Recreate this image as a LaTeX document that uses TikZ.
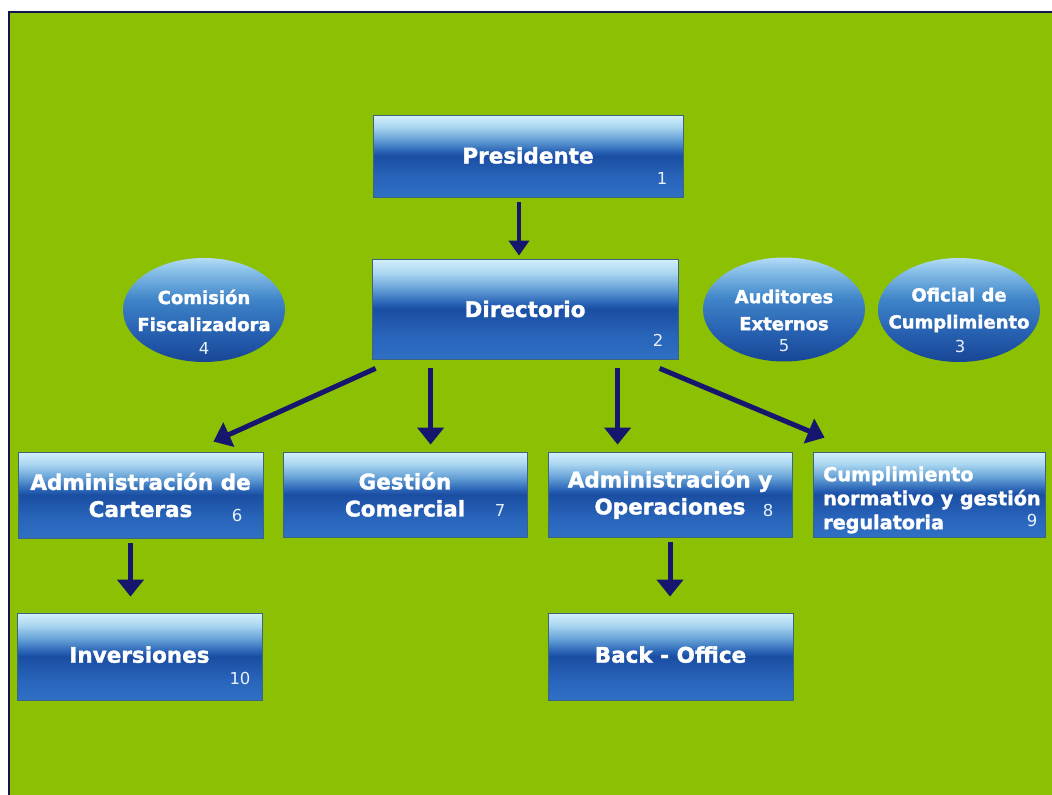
\documentclass[tikz,border=0pt]{standalone}
\usepackage{fontspec}
\setmainfont{DejaVu Sans}[BoldFeatures={FakeBold=1.6}]
\usetikzlibrary{arrows.meta,calc,shapes.geometric}
\definecolor{bgGreen}{RGB}{140,192,2}
\definecolor{frameNavy}{RGB}{20,20,80}
\definecolor{arrowNavy}{RGB}{22,22,110}
\definecolor{boxEdge}{RGB}{60,100,125}
\definecolor{bxA}{RGB}{47,112,196}
\definecolor{bxB}{RGB}{40,100,186}
\definecolor{bxC}{RGB}{26,78,162}
\definecolor{bxD}{RGB}{42,100,182}
\definecolor{bxE}{RGB}{100,160,214}
\definecolor{bxF}{RGB}{170,214,240}
\definecolor{bxG}{RGB}{212,239,250}
\definecolor{elA}{RGB}{24,70,150}
\definecolor{elB}{RGB}{40,98,178}
\definecolor{elC}{RGB}{62,132,200}
\definecolor{elD}{RGB}{142,196,234}
\definecolor{elE}{RGB}{180,220,244}
\definecolor{numCol}{RGB}{232,240,250}
\pgfdeclareverticalshading{boxshade}{100bp}{color(0bp)=(bxA); color(25bp)=(bxA); color(37bp)=(bxB); color(50bp)=(bxC); color(53bp)=(bxD); color(60bp)=(bxE); color(68bp)=(bxF); color(75bp)=(bxG); color(100bp)=(bxG)}
\pgfdeclareverticalshading{ellshade}{100bp}{color(0bp)=(elA); color(25bp)=(elA); color(40bp)=(elB); color(55bp)=(elC); color(70bp)=(elD); color(75bp)=(elE); color(100bp)=(elE)}
\tikzset{
  orgbox/.style={rectangle, shading=boxshade, draw=boxEdge, line width=0.8pt,
    inner sep=0pt, text=white, align=center,
    font=\fontsize{21.5}{27}\selectfont\bfseries},
  orgell/.style={ellipse, shading=ellshade, draw=none, inner sep=0pt,
    minimum width=162pt, minimum height=104pt},
  elltext/.style={text=white, align=center, inner sep=0pt,
    font=\fontsize{18}{27}\selectfont\bfseries},
  numtext/.style={text=numCol, inner sep=0pt, font=\fontsize{16.5}{16}\selectfont},
  arr/.style={draw=arrowNavy, line width=5pt,
    -{Triangle[width=26pt,length=17pt]}},
  arrthin/.style={draw=arrowNavy, line width=4pt,
    -{Triangle[width=20pt,length=15pt]}}
}
\begin{document}
\begin{tikzpicture}[x=1pt,y=-1pt]
\useasboundingbox (0,0) rectangle (1052,795);
\fill[white] (0,0) rectangle (1052,795);
\fill[bgGreen] (8,11) rectangle (1052,795);
\draw[frameNavy, line width=2pt] (9,795) -- (9,12) -- (1052,12);

% boxes
\node[orgbox, minimum width=310pt, minimum height=82pt] (pres) at (528,156) {\raisebox{1.5pt}{Presidente}};
\node[orgbox, minimum width=306pt, minimum height=100pt] (dir) at (525,309) {Directorio};
\node[orgbox, minimum width=245pt, minimum height=86pt] (cart) at (140.5,495) {Administración de\\Carteras};
\node[orgbox, minimum width=244pt, minimum height=85pt] (gest) at (405,494.5) {Gestión\\Comercial};
\node[orgbox, minimum width=244pt, minimum height=85pt] (adm) at (670,494.5) {Administración y\\Operaciones};
\node[orgbox, minimum width=232pt, minimum height=85pt] (cump) at (929,494.5) {};
\node[text=white, align=left, inner sep=0pt, anchor=west,
  font=\fontsize{19.2}{24}\selectfont\bfseries] (cumpT) at (823,500) {Cumplimiento\\normativo y gestión\\regulatoria};
\node[orgbox, minimum width=245pt, minimum height=87pt] (inv) at (139.5,656.5) {\raisebox{4pt}{Inversiones}};
\node[orgbox, minimum width=245pt, minimum height=87pt] (back) at (670.5,656.5) {\raisebox{4pt}{Back - Office}};

% ellipses
\node[orgell] (com) at (204,310) {};
\node[elltext] (comT) at (204,310.5) {Comisión\\Fiscalizadora};
\node[orgell] (aud) at (784,309.5) {};
\node[elltext] (audT) at (784,310) {Auditores\\Externos};
\node[orgell] (ofi) at (959,310) {};
\node[elltext] (ofiT) at (959,310) {Oficial de\\Cumplimiento};

% numbers
\node[numtext] (n1) at (662,178) {1};
\node[numtext] (n2) at (658,340) {2};
\node[numtext] (n3) at (960,346) {3};
\node[numtext] (n4) at (204,348) {4};
\node[numtext] (n5) at (784,346) {5};
\node[numtext] (n6) at (237,515) {6};
\node[numtext] (n7) at (500,510) {7};
\node[numtext] (n8) at (768,510) {8};
\node[numtext] (n9) at (1032,520) {9};
\node[numtext] (n10) at (240,678) {10};

% connectors
\draw[arrthin] ($(pres.south)+(-9,5)$) -- ($(pres.south |- dir.north)+(-9,-3)$);
\draw[arr] ($(dir.south west)+(4,9)$) -- ($(cart.north east)+(-50,-10)$);
\draw[arr] ($(dir.south west)+(59,9)$) -- ($(dir.south west |- gest.north)+(59,-7)$);
\draw[arr] ($(dir.south west)+(246,9)$) -- ($(dir.south west |- adm.north)+(246,-7)$);
\draw[arr] ($(dir.south west)+(288,9)$) -- ($(cump.north west)+(12,-14)$);
\draw[arr] ($(cart.south)+(-10,5)$) -- ($(cart.south |- inv.north)+(-10,-16)$);
\draw[arr] ($(adm.south)+(0,5)$) -- ($(adm.south |- back.north)+(0,-16)$);
\end{tikzpicture}
\end{document}
